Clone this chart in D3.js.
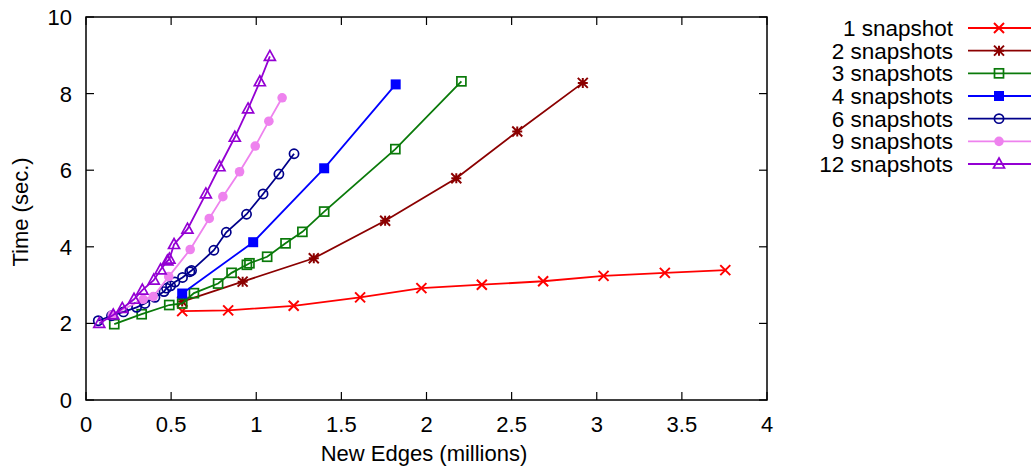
<!DOCTYPE html>
<html><head><meta charset="utf-8">
<script src="https://cdn.jsdelivr.net/npm/d3@7"></script>
<style>body{margin:0;background:#fff}svg{display:block}text{font-family:"Liberation Sans",Arial,sans-serif;fill:#000}</style>
</head><body><svg id="c" width="1031" height="468"></svg>
<script>
const seriesNames = ["1 snapshot","2 snapshots","3 snapshots","4 snapshots","6 snapshots","9 snapshots","12 snapshots"];
const seriesColors = ["#ff0000","#8b0000","#0a7a0a","#0000ff","#00008b","#ee82ee","#9400d3"];
const seriesMarkers = ["x","star","squareOpen","square","circleOpen","circle","triangleOpen"];
const s1x = [0.565,0.835,1.22,1.61,1.97,2.325,2.685,3.04,3.40,3.755];
const s1y = [2.32,2.34,2.46,2.68,2.92,3.01,3.10,3.24,3.32,3.39];
const s2x = [0.565,0.92,1.338,1.757,2.175,2.533,2.918];
const s2y = [2.57,3.09,3.70,4.68,5.79,7.01,8.28];
const s3x = [0.166,0.327,0.489,0.565,0.634,0.776,0.855,0.945,0.96,1.064,1.172,1.271,1.399,1.817,2.205];
const s3y = [1.98,2.24,2.48,2.52,2.79,3.04,3.32,3.53,3.57,3.74,4.09,4.39,4.92,6.55,8.32];
const s4x = [0.565,0.982,1.399,1.819];
const s4y = [2.78,4.12,6.05,8.24];
const s6x = [0.072,0.15,0.22,0.297,0.346,0.405,0.458,0.473,0.497,0.522,0.567,0.61,0.62,0.751,0.824,0.943,1.04,1.133,1.222];
const s6y = [2.07,2.2,2.3,2.42,2.52,2.68,2.83,2.92,2.98,3.08,3.20,3.35,3.38,3.91,4.38,4.85,5.38,5.90,6.43];
const s9x = [0.154,0.336,0.395,0.486,0.612,0.724,0.804,0.902,0.994,1.074,1.152];
const s9y = [2.22,2.63,2.70,3.22,3.93,4.74,5.31,5.96,6.63,7.28,7.89];
const s12x = [0.078,0.16,0.213,0.282,0.331,0.398,0.438,0.478,0.49,0.517,0.596,0.704,0.784,0.874,0.952,1.021,1.08];
const s12y = [2.0,2.22,2.39,2.63,2.87,3.13,3.40,3.63,3.68,4.06,4.46,5.38,6.09,6.86,7.60,8.31,8.97];
const xTicks = [0,0.5,1,1.5,2,2.5,3,3.5,4];
const yTicks = [0,2,4,6,8,10];
const xTitle = "New Edges (millions)";
const yTitle = "Time (sec.)";

const allX = [s1x,s2x,s3x,s4x,s6x,s9x,s12x];
const allY = [s1y,s2y,s3y,s4y,s6y,s9y,s12y];

const svg = d3.select("#c");
const L=86,R=767,T=17,B=400;
const x = d3.scaleLinear().domain([0,4]).range([L,R]);
const y = d3.scaleLinear().domain([0,10]).range([B,T]);
const tl = 8;
const FS = 22;

const g = svg.append("g");
const ax = g.append("g").attr("stroke","#000").attr("stroke-width",1.2);
xTicks.forEach(t=>{
  ax.append("line").attr("x1",x(t)).attr("x2",x(t)).attr("y1",B).attr("y2",B-tl);
  ax.append("line").attr("x1",x(t)).attr("x2",x(t)).attr("y1",T).attr("y2",T+tl);
});
yTicks.forEach(t=>{
  ax.append("line").attr("x1",L).attr("x2",L+tl).attr("y1",y(t)).attr("y2",y(t));
  ax.append("line").attr("x1",R).attr("x2",R-tl).attr("y1",y(t)).attr("y2",y(t));
});
g.append("rect").attr("x",L).attr("y",T).attr("width",R-L).attr("height",B-T)
  .attr("fill","none").attr("stroke","#000").attr("stroke-width",1.5);

g.selectAll(".xt").data(xTicks).enter().append("text")
  .attr("x",d=>x(d)).attr("y",432).attr("text-anchor","middle").attr("font-size",FS)
  .text(d=>d3.format("")(d));
g.selectAll(".yt").data(yTicks).enter().append("text")
  .attr("x",72).attr("y",d=>y(d)+8).attr("text-anchor","end").attr("font-size",FS)
  .text(d=>d);
g.append("text").attr("x",424).attr("y",461).attr("text-anchor","middle").attr("font-size",FS).text(xTitle);
g.append("text").attr("transform","translate(28,212) rotate(-90)").attr("text-anchor","middle").attr("font-size",FS).text(yTitle);

function marker(sel,type,color,cx,cy){
  const m = sel.append("g").attr("transform",`translate(${cx},${cy})`);
  const sw=1.7;
  if(type==="x"){
    m.append("path").attr("d","M-5,-5L5,5M-5,5L5,-5").attr("stroke",color).attr("stroke-width",2).attr("fill","none");
  } else if(type==="star"){
    m.append("path").attr("d","M-5,-5L5,5M-5,5L5,-5M-5,0L5,0M0,-5L0,5").attr("stroke",color).attr("stroke-width",2).attr("fill","none");
  } else if(type==="squareOpen"){
    m.append("rect").attr("x",-4.5).attr("y",-4.5).attr("width",9).attr("height",9).attr("fill","none").attr("stroke",color).attr("stroke-width",sw);
  } else if(type==="square"){
    m.append("rect").attr("x",-5).attr("y",-5).attr("width",10).attr("height",10).attr("fill",color);
  } else if(type==="circleOpen"){
    m.append("circle").attr("r",4.6).attr("fill","none").attr("stroke",color).attr("stroke-width",sw);
  } else if(type==="circle"){
    m.append("circle").attr("r",4.8).attr("fill",color);
  } else if(type==="triangleOpen"){
    m.append("path").attr("d","M0,-6L5.5,4L-5.5,4Z").attr("fill","none").attr("stroke",color).attr("stroke-width",sw);
  }
}

const plot = svg.append("g");
const line = d3.line().x(d=>x(d[0])).y(d=>y(d[1]));
seriesNames.forEach((n,i)=>{
  const pts = allX[i].map((v,j)=>[v,allY[i][j]]);
  const sg = plot.append("g");
  sg.append("path").datum(pts).attr("d",line).attr("fill","none").attr("stroke",seriesColors[i]).attr("stroke-width",1.8);
  pts.forEach(p=>marker(sg,seriesMarkers[i],seriesColors[i],x(p[0]),y(p[1])));
});

const lg = svg.append("g");
const ly = d3.scalePoint().domain(seriesNames).range([28,164]);
seriesNames.forEach((n,i)=>{
  const yy = ly(n);
  lg.append("text").attr("x",953).attr("y",yy+8).attr("text-anchor","end")
    .attr("font-size",22.5).style("font-family",'"Liberation Sans Narrow","Liberation Sans",Arial,sans-serif').text(n);
  lg.append("line").attr("x1",968).attr("x2",1031).attr("y1",yy).attr("y2",yy).attr("stroke",seriesColors[i]).attr("stroke-width",1.8);
  marker(lg,seriesMarkers[i],seriesColors[i],999,yy);
});
</script></body></html>
